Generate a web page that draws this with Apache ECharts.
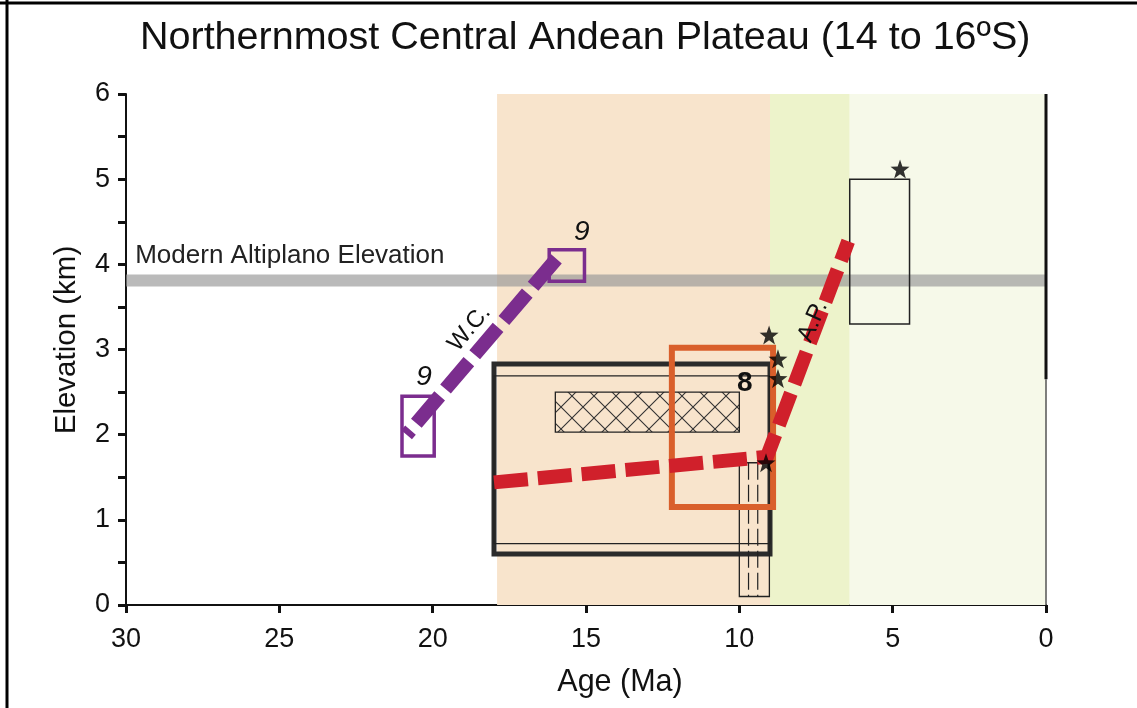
<!DOCTYPE html>
<html>
<head>
<meta charset="utf-8">
<script src="https://cdn.jsdelivr.net/npm/echarts@6/dist/echarts.min.js"></script>
<style>
  html, body { margin: 0; padding: 0; background: #fff; }
  #chart { width: 1137px; height: 708px; }
</style>
</head>
<body>
<div id="chart"></div>
<script>
// ---------------- DATA ----------------
const xTicks = [30, 25, 20, 15, 10, 5, 0];           // Age (Ma)
const yTicks = [0, 1, 2, 3, 4, 5, 6];                 // Elevation (km)
// background time bands [older, younger] in Ma
const bandRanges = [[17.9, 9], [9, 6.4], [6.4, 0]];
// Modern Altiplano elevation band [lower, upper] km
const altiplanoBand = [3.74, 3.88];
// rectangles [ageOld, ageYoung, elevLow, elevHigh]
const thickBox = [18, 9, 0.6, 2.83];
const thinBox = [18, 9, 0.72, 2.69];
const hatchBox = [16, 10, 2.03, 2.5];
const orangeBox = [12.2, 8.9, 1.15, 3.02];
const dashBox = [10, 9.02, 0.1, 1.67];
const dashBoxInnerAges = [9.7, 9.4];
const rightBox = [6.4, 4.45, 3.3, 5.0];
const purpleBoxes = [[21, 19.95, 1.75, 2.45], [16.2, 15.05, 3.8, 4.17]];
// trend lines [age, elev]
const wcLine = [[20.85, 2.0], [15.95, 4.07]];
const apLine = [[18, 1.44], [9.1, 1.74], [6.45, 4.27]];
// stars [age, elev]
const stars = [[4.76, 5.12], [9.03, 3.17], [8.74, 2.89], [8.74, 2.66], [9.13, 1.67]];
// right frame segments [age, elev]
const rightFrameThick = [[0, 2.65], [0, 6]];
const rightFrameThin = [[0, 0], [0, 2.65]];
// annotation texts
const refNines = [[20.28, 2.68], [15.14, 4.38]];
const refEight = [9.82, 2.6];
const wcLabel = ['W.C.', 18.8, 3.25];
const apLabel = ['A.P.', 7.6, 3.33];
const altiplanoLabel = ['Modern Altiplano Elevation', 29.7, 4.1];

// ---------------- STYLES ----------------
const FONT = 'Liberation Sans, Arial, Helvetica, sans-serif';
const bandColors = ['#f8e4cc', '#edf3cb', '#f6f9e9'];
const PURPLE = '#7b2d8e';
const RED = '#d0202b';
const ORANGE = '#d95f2b';

function hatchPattern() {
  const s = 22;
  const c = document.createElement('canvas');
  c.width = s; c.height = s;
  const g = c.getContext('2d');
  g.strokeStyle = '#333';
  g.lineWidth = 1.1;
  g.beginPath();
  g.moveTo(0, 0); g.lineTo(s, s);
  g.moveTo(s, 0); g.lineTo(0, s);
  g.stroke();
  return c;
}

function rectFromData(api, d) {
  const p1 = api.coord([d[0], d[3]]);
  const p2 = api.coord([d[1], d[2]]);
  return {
    x: Math.min(p1[0], p2[0]), y: Math.min(p1[1], p2[1]),
    width: Math.abs(p2[0] - p1[0]), height: Math.abs(p2[1] - p1[1])
  };
}

function rectSeries(data, style, z) {
  return {
    type: 'custom', z: z, silent: true, clip: false,
    data: data,
    renderItem: function (params, api) {
      const d = data[params.dataIndex];
      return { type: 'rect', shape: rectFromData(api, d), style: style };
    }
  };
}

const starPath = 'path://M0,-10L2.35,-3.24L9.51,-3.09L3.8,1.24L5.88,8.09L0,4.1L-5.88,8.09L-3.8,1.24L-9.51,-3.09L-2.35,-3.24Z';

const chart = echarts.init(document.getElementById('chart'), null, { renderer: 'canvas' });

const series = [];
// background bands
series.push({
  type: 'custom', z: 1, silent: true, data: bandRanges,
  renderItem: function (params, api) {
    const b = bandRanges[params.dataIndex];
    return {
      type: 'rect',
      shape: rectFromData(api, [b[0], b[1], 0, 6]),
      style: { fill: bandColors[params.dataIndex] }
    };
  }
});
// altiplano grey band
series.push({
  type: 'custom', z: 2, silent: true, data: [altiplanoBand],
  renderItem: function (params, api) {
    return {
      type: 'rect',
      shape: rectFromData(api, [30, 0, altiplanoBand[0], altiplanoBand[1]]),
      style: { fill: 'rgba(150,150,150,0.66)' }
    };
  }
});
// boxes
series.push(rectSeries([thickBox], { fill: 'none', stroke: '#2b2b2b', lineWidth: 5 }, 3));
series.push(rectSeries([thinBox], { fill: 'none', stroke: '#222', lineWidth: 1.2 }, 3));
series.push(rectSeries([hatchBox], { fill: { image: hatchPattern(), repeat: 'repeat' }, stroke: '#222', lineWidth: 1.3 }, 3));
series.push(rectSeries([rightBox], { fill: 'none', stroke: '#222', lineWidth: 1.5 }, 3));
series.push(rectSeries([dashBox], { fill: 'none', stroke: '#222', lineWidth: 1.3 }, 4));
// dash box inner dashed lines
series.push({
  type: 'custom', z: 4, silent: true, data: dashBoxInnerAges,
  renderItem: function (params, api) {
    const a = dashBoxInnerAges[params.dataIndex];
    const p1 = api.coord([a, dashBox[3]]);
    const p2 = api.coord([a, dashBox[2]]);
    return {
      type: 'line',
      shape: { x1: p1[0], y1: p1[1], x2: p2[0], y2: p2[1] },
      style: { stroke: '#222', lineWidth: 1.2, lineDash: [17, 5] }
    };
  }
});
series.push(rectSeries([orangeBox], { fill: 'none', stroke: ORANGE, lineWidth: 6 }, 5));
series.push(rectSeries(purpleBoxes, { fill: 'none', stroke: PURPLE, lineWidth: 3.5 }, 5));
// trend lines
series.push({
  type: 'line', z: 6, data: wcLine, symbol: 'none', silent: true,
  lineStyle: { color: PURPLE, width: 14, type: [36, 9], dashOffset: 30, cap: 'butt' }
});
series.push({
  type: 'line', z: 6, data: apLine, symbol: 'none', silent: true,
  lineStyle: { color: RED, width: 14, type: [34, 10], cap: 'butt', join: 'miter' }
});
// right frame
series.push({
  type: 'line', z: 7, data: rightFrameThick, symbol: 'none', silent: true,
  lineStyle: { color: '#111', width: 3 }
});
series.push({
  type: 'line', z: 7, data: rightFrameThin, symbol: 'none', silent: true,
  lineStyle: { color: '#555', width: 1.5 }
});
// stars
series.push({
  type: 'scatter', z: 8, data: stars, symbol: starPath, symbolSize: 19, silent: true,
  itemStyle: { color: '#000' }
});
// texts
function textSeries(items, styleFn, z) {
  return {
    type: 'custom', z: z, silent: true, clip: false, data: items,
    renderItem: function (params, api) {
      const it = items[params.dataIndex];
      const p = api.coord([it[1], it[2]]);
      const st = styleFn(params.dataIndex);
      return {
        type: 'text', x: p[0], y: p[1], rotation: st.rotation || 0,
        style: Object.assign({ text: it[0], fill: '#111', fontFamily: FONT,
          align: 'center', verticalAlign: 'middle' }, st.style)
      };
    }
  };
}
series.push(textSeries(refNines.map(p => ['9', p[0], p[1]]),
  () => ({ style: { fontSize: 28, fontStyle: 'italic' } }), 9));
series.push(textSeries([['8', refEight[0], refEight[1]]],
  () => ({ style: { fontSize: 28, fontWeight: 'bold' } }), 9));
series.push(textSeries([wcLabel],
  () => ({ rotation: 50 * Math.PI / 180, style: { fontSize: 24 } }), 9));
series.push(textSeries([apLabel],
  () => ({ rotation: 66 * Math.PI / 180, style: { fontSize: 24 } }), 9));
series.push(textSeries([altiplanoLabel],
  () => ({ style: { fontSize: 26, align: 'left', fill: '#222' } }), 9));

const option = {
  animation: false,
  backgroundColor: '#fff',
  title: {
    text: 'Northernmost Central Andean Plateau (14 to 16ºS)',
    left: 135, top: 13,
    textStyle: { fontFamily: FONT, fontSize: 39.5, fontWeight: 'normal', color: '#111' }
  },
  grid: { left: 126, right: 91, top: 94, bottom: 103 },
  xAxis: {
    type: 'value', min: 0, max: 30, interval: 5, inverse: true,
    axisLine: { show: true, onZero: false, lineStyle: { color: '#111', width: 2 } },
    axisTick: { show: true, length: 8, lineStyle: { color: '#111', width: 3 } },
    axisLabel: { fontSize: 27, margin: 21, color: '#111', fontFamily: FONT },
    splitLine: { show: false }
  },
  yAxis: {
    type: 'value', min: 0, max: 6, interval: 1, position: 'left',
    axisLine: { show: true, onZero: false, lineStyle: { color: '#111', width: 2 } },
    axisTick: { show: true, length: 8, lineStyle: { color: '#111', width: 3 } },
    minorTick: { show: true, splitNumber: 2, length: 8, lineStyle: { color: '#111', width: 3 } },
    axisLabel: { fontSize: 27, margin: 16, color: '#111', fontFamily: FONT },
    splitLine: { show: false }
  },
  graphic: [
    { type: 'text', x: 67, y: 340, rotation: Math.PI / 2,
      style: { text: 'Elevation (km)', fontSize: 29.5, fontFamily: FONT, fill: '#111',
        align: 'center', verticalAlign: 'middle' } },
    { type: 'text', x: 620, y: 683,
      style: { text: 'Age (Ma)', fontSize: 30.5, fontFamily: FONT, fill: '#111',
        align: 'center', verticalAlign: 'middle' } },
    { type: 'line', shape: { x1: 7, y1: 0, x2: 7, y2: 708 }, style: { stroke: '#000', lineWidth: 3 } },
    { type: 'line', shape: { x1: 0, y1: 3, x2: 1137, y2: 3 }, style: { stroke: '#000', lineWidth: 3 } }
  ],
  series: series
};
chart.setOption(option);
</script>
</body>
</html>
